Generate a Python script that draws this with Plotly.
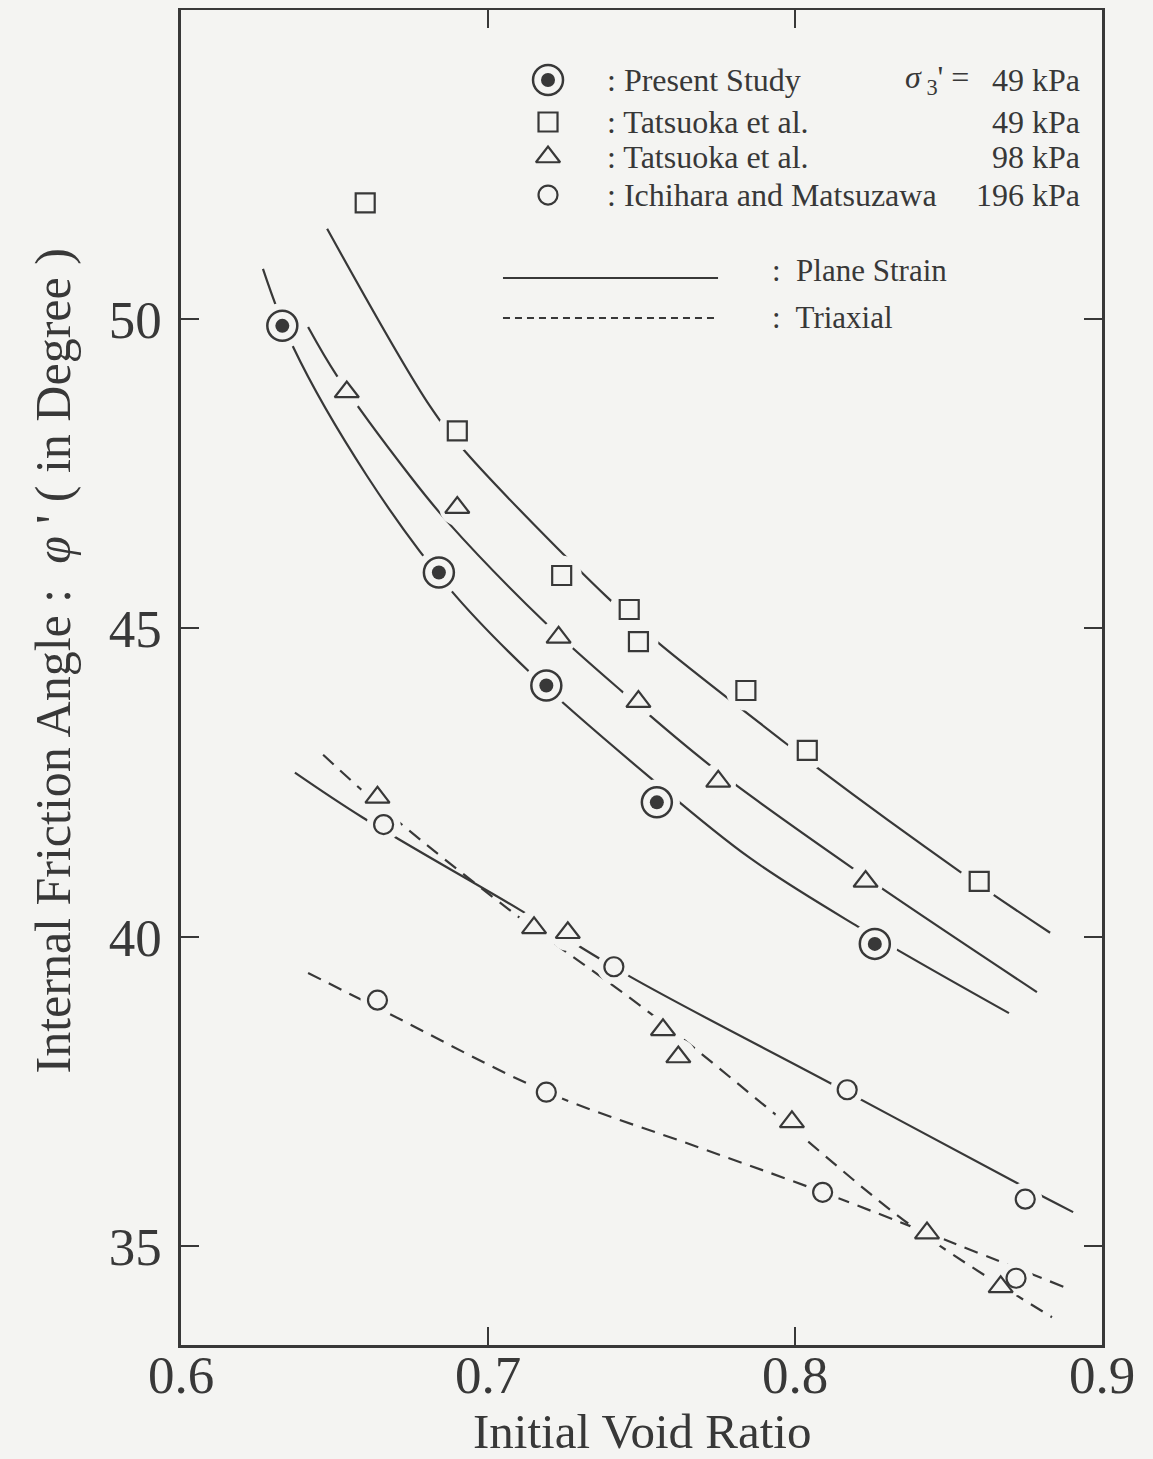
import plotly.graph_objects as go

# ---------------- data ----------------
# Present Study, sigma3' = 49 kPa (plane strain)
ps_e = [0.633, 0.684, 0.719, 0.755, 0.826]
ps_phi = [49.89, 45.90, 44.07, 42.18, 39.89]

# Tatsuoka et al., 49 kPa (plane strain)
t49_e = [0.660, 0.690, 0.724, 0.746, 0.749, 0.784, 0.804, 0.860]
t49_phi = [51.88, 48.19, 45.85, 45.30, 44.78, 43.99, 43.02, 40.90]

# Tatsuoka et al., 98 kPa (plane strain)
t98p_e = [0.654, 0.690, 0.723, 0.749, 0.775, 0.823]
t98p_phi = [48.82, 46.95, 44.85, 43.81, 42.52, 40.90]

# Tatsuoka et al., 98 kPa (triaxial)
t98t_e = [0.664, 0.715, 0.726, 0.757, 0.762, 0.799, 0.843, 0.867]
t98t_phi = [42.26, 40.15, 40.07, 38.50, 38.06, 37.01, 35.21, 34.34]

# Ichihara and Matsuzawa, 196 kPa (plane strain)
ichp_e = [0.666, 0.741, 0.817, 0.875]
ichp_phi = [41.82, 39.52, 37.53, 35.76]

# Ichihara and Matsuzawa, 196 kPa (triaxial)
icht_e = [0.664, 0.719, 0.809, 0.872]
icht_phi = [38.98, 37.49, 35.87, 34.48]

# ---- trend curves drawn by the authors ----
ps_curve_e = [0.6267, 0.6365, 0.6606, 0.6876, 0.7137, 0.7528, 0.7853, 0.8205, 0.8697]
ps_curve_phi = [50.81, 49.55, 47.46, 45.63, 44.28, 42.58, 41.28, 40.17, 38.77]

t49_curve_e = [0.6476, 0.6811, 0.6925, 0.7388, 0.7560, 0.7974, 0.8072, 0.8537, 0.8831]
t49_curve_phi = [51.46, 48.59, 47.86, 45.50, 44.74, 43.12, 42.74, 41.06, 40.07]

t98p_curve_e = [0.6414, 0.6508, 0.6746, 0.6870, 0.7186, 0.7440, 0.7733, 0.8186, 0.8788]
t98p_curve_phi = [49.87, 49.08, 47.46, 46.71, 45.09, 43.96, 42.74, 41.12, 39.11]

t98t_curve_e = [0.6463, 0.6681, 0.7104, 0.7528, 0.7951, 0.8384, 0.8837]
t98t_curve_phi = [42.95, 41.98, 40.31, 38.77, 37.07, 35.31, 33.85]

ichp_curve_e = [0.6371, 0.6593, 0.7104, 0.7463, 0.8114, 0.8723, 0.8906]
ichp_curve_phi = [42.66, 41.93, 40.44, 39.36, 37.64, 36.02, 35.55]

icht_curve_e = [0.6414, 0.6674, 0.7192, 0.7691, 0.8091, 0.8886]
icht_curve_phi = [39.42, 38.77, 37.49, 36.59, 35.87, 34.32]

x_ticks = [0.6, 0.7, 0.8, 0.9]
x_ticktext = ["0.6", "0.7", "0.8", "0.9"]
y_ticks = [35, 40, 45, 50]
y_ticktext = ["35", "40", "45", "50"]

# ---------------- style ----------------
BG = "#f4f4f2"
INK = "#383838"
FONT = "Liberation Serif"

fig = go.Figure()

curves = [
    (ps_curve_e, ps_curve_phi, "solid"),
    (t49_curve_e, t49_curve_phi, "solid"),
    (t98p_curve_e, t98p_curve_phi, "solid"),
    (ichp_curve_e, ichp_curve_phi, "solid"),
    (t98t_curve_e, t98t_curve_phi, "14px,9px"),
    (icht_curve_e, icht_curve_phi, "14px,9px"),
]
for xs, ys, dash in curves:
    fig.add_trace(go.Scatter(x=xs, y=ys, mode="lines",
                             line=dict(color=INK, width=2.2, dash=dash, shape="spline", smoothing=1.0),
                             showlegend=False, hoverinfo="skip"))

# halos (gaps in lines around symbols)
halo_sets = [
    (ps_e, ps_phi, 46),
    (t49_e, t49_phi, 40),
    (t98p_e + t98t_e, t98p_phi + t98t_phi, 36),
    (ichp_e + icht_e, ichp_phi + icht_phi, 34),
]
for xs, ys, s in halo_sets:
    fig.add_trace(go.Scatter(x=xs, y=ys, mode="markers",
                             marker=dict(symbol="circle", size=s, color=BG, line=dict(width=0)),
                             showlegend=False, hoverinfo="skip"))

# symbols
fig.add_trace(go.Scatter(x=t49_e, y=t49_phi, mode="markers", name="Tatsuoka 49",
                         marker=dict(symbol="square", size=19, color=BG, line=dict(color=INK, width=2.2)),
                         showlegend=False))
fig.add_trace(go.Scatter(x=t98p_e + t98t_e, y=t98p_phi + t98t_phi, mode="markers", name="Tatsuoka 98",
                         marker=dict(symbol="triangle-up", size=21, color=BG, line=dict(color=INK, width=2.2)),
                         showlegend=False))
fig.add_trace(go.Scatter(x=ichp_e + icht_e, y=ichp_phi + icht_phi, mode="markers", name="Ichihara",
                         marker=dict(symbol="circle", size=19, color=BG, line=dict(color=INK, width=2.2)),
                         showlegend=False))
fig.add_trace(go.Scatter(x=ps_e, y=ps_phi, mode="markers", name="Present ring",
                         marker=dict(symbol="circle", size=30, color=BG, line=dict(color=INK, width=2.5)),
                         showlegend=False))
fig.add_trace(go.Scatter(x=ps_e, y=ps_phi, mode="markers", name="Present dot",
                         marker=dict(symbol="circle", size=14, color=INK, line=dict(width=0)),
                         showlegend=False))

# ---------------- hand-made key (overlay axes in 0..1 units) ----------------
key_x = 0.3985
key_y = [0.9476, 0.9161, 0.8899, 0.8614]
fig.add_trace(go.Scatter(x=[key_x], y=[key_y[0]], xaxis="x2", yaxis="y2", mode="markers",
                         marker=dict(symbol="circle", size=30, color=BG, line=dict(color=INK, width=2.5)),
                         showlegend=False, hoverinfo="skip"))
fig.add_trace(go.Scatter(x=[key_x], y=[key_y[0]], xaxis="x2", yaxis="y2", mode="markers",
                         marker=dict(symbol="circle", size=14, color=INK),
                         showlegend=False, hoverinfo="skip"))
for sym, yk, sz in [("square", key_y[1], 19), ("triangle-up", key_y[2], 21), ("circle", key_y[3], 19)]:
    fig.add_trace(go.Scatter(x=[key_x], y=[yk], xaxis="x2", yaxis="y2", mode="markers",
                             marker=dict(symbol=sym, size=sz, color=BG, line=dict(color=INK, width=2.2)),
                             showlegend=False, hoverinfo="skip"))
fig.add_trace(go.Scatter(x=[0.3496, 0.5831], y=[0.7993, 0.7993], xaxis="x2", yaxis="y2", mode="lines",
                         line=dict(color=INK, width=2), showlegend=False, hoverinfo="skip"))
fig.add_trace(go.Scatter(x=[0.3496, 0.5790], y=[0.7693, 0.7693], xaxis="x2", yaxis="y2", mode="lines",
                         line=dict(color=INK, width=1.8, dash="7px,5px"), showlegend=False, hoverinfo="skip"))

key_labels = [": Present Study", ": Tatsuoka et al.", ": Tatsuoka et al.", ": Ichihara and Matsuzawa"]
key_press = ["49 kPa", "49 kPa", "98 kPa", "196 kPa"]
annotations = []
for lab, yk in zip(key_labels, key_y):
    annotations.append(dict(x=0.4604, y=yk, xref="x2", yref="y2", text=lab, showarrow=False,
                            xanchor="left", yanchor="middle", font=dict(family=FONT, size=32, color=INK)))
for p, yk in zip(key_press, key_y):
    annotations.append(dict(x=0.9783, y=yk, xref="x2", yref="y2", text=p, showarrow=False,
                            xanchor="right", yanchor="middle", font=dict(family=FONT, size=32, color=INK)))
annotations.append(dict(x=0.858, y=key_y[0], xref="x2", yref="y2",
                        text="<i>σ</i><sub> 3</sub>' =", showarrow=False,
                        xanchor="right", yanchor="middle", font=dict(family=FONT, size=32, color=INK)))
annotations.append(dict(x=0.6395, y=0.8052, xref="x2", yref="y2", text=":  Plane Strain", showarrow=False,
                        xanchor="left", yanchor="middle", font=dict(family=FONT, size=31, color=INK)))
annotations.append(dict(x=0.6395, y=0.7693, xref="x2", yref="y2", text=":  Triaxial", showarrow=False,
                        xanchor="left", yanchor="middle", font=dict(family=FONT, size=31, color=INK)))
# axis titles as annotations (fixed positions as in the reference)
annotations.append(dict(x=0, y=0.512, xref="paper", yref="paper", xshift=-128, textangle=-90,
                        text="Internal Friction Angle :  <i>φ</i> ' ( in Degree )", showarrow=False,
                        xanchor="center", yanchor="middle", font=dict(family=FONT, size=50, color=INK)))
annotations.append(dict(x=0.5, y=0, xref="paper", yref="paper", yshift=-86,
                        text="Initial Void Ratio", showarrow=False,
                        xanchor="center", yanchor="middle", font=dict(family=FONT, size=49, color=INK)))

axis_common = dict(showgrid=False, zeroline=False, showline=True, linewidth=2.5, linecolor=INK,
                   mirror="ticks", ticks="inside", ticklen=18, tickwidth=2, tickcolor=INK,
                   tickfont=dict(family=FONT, size=53, color=INK), automargin=False)

# page has an 8px body margin: size the figure so the plot area lands where the reference has it
fig.update_layout(
    width=1137, height=1451,
    margin=dict(l=173, r=43, t=2, b=114),
    paper_bgcolor=BG, plot_bgcolor=BG,
    showlegend=False,
    xaxis=dict(range=[0.6, 0.9], tickvals=x_ticks, ticktext=x_ticktext,
               ticklabelstandoff=-18, **axis_common),
    yaxis=dict(range=[33.4, 55.0], tickvals=y_ticks, ticktext=y_ticktext,
               ticklabelstandoff=6, **axis_common),
    xaxis2=dict(range=[0, 1], overlaying="x", visible=False, anchor="y2"),
    yaxis2=dict(range=[0, 1], overlaying="y", visible=False, anchor="x2"),
    annotations=annotations,
)

fig.write_html("out.html",
               post_script="document.body.style.background='%s';" % BG)
